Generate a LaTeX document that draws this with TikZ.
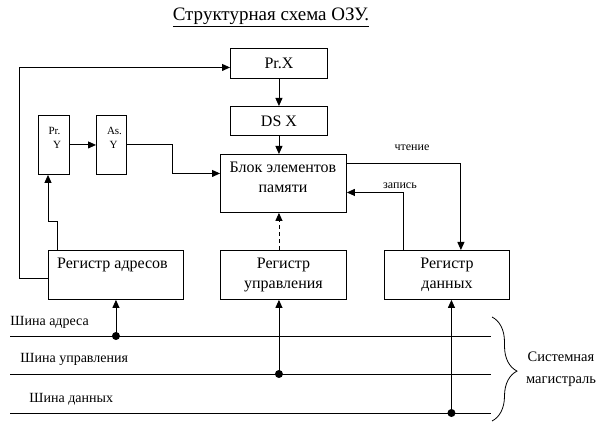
\documentclass[tikz,border=0pt]{standalone}
\usepackage{fontspec}
\setmainfont{Liberation Serif}
\usetikzlibrary{arrows.meta,decorations.pathreplacing,calc}

\begin{document}
\begin{tikzpicture}[
  x=1pt,y=-1pt,
  line width=0.9pt,
  >={Triangle[length=8pt,width=7pt]},
  box/.style={draw,anchor=north west,inner sep=0pt,align=center,font=\fontsize{16}{20}\selectfont},
  boxtext/.style={font=\fontsize{16}{20}\selectfont,align=center,inner sep=0pt},
  smalltext/.style={font=\fontsize{11}{13}\selectfont,inner sep=0pt},
  tag/.style={font=\fontsize{12}{14}\selectfont,inner sep=0pt},
  busname/.style={font=\fontsize{14}{17}\selectfont,anchor=west,inner sep=0pt},
  tap/.style={circle,fill,inner sep=0pt,minimum size=8pt},
  flow/.style={->},
  ctrl/.style={->,dash pattern=on 4pt off 3pt}
]
\useasboundingbox (0,0) rectangle (614,425);

% Title
\node[font=\fontsize{19}{22}\selectfont] (title) at (271,17) {\underline{Структурная схема ОЗУ.}};

% Blocks
\node[box,minimum width=97pt,minimum height=30pt] (prx) at (230,48) {Pr.X};
\node[box,minimum width=97pt,minimum height=29pt] (dsx) at (230,106) {DS X};
\node[box,minimum width=126pt,minimum height=58pt] (blk) at (220,154) {};
\node[boxtext] (blktxt) at (283,177) {Блок элементов\\памяти};
\node[box,minimum width=30.5pt,minimum height=59pt] (pry) at (38,115) {};
\node[smalltext] (prytop) at (54.5,131) {Pr.};
\node[smalltext] (prybot) at (57,144.5) {Y};
\node[box,minimum width=29.5pt,minimum height=59pt] (asy) at (96,115) {};
\node[smalltext] (asytop) at (114.5,131) {As.};
\node[smalltext] (asybot) at (113.5,144.5) {Y};
\node[box,minimum width=135pt,minimum height=49pt] (radr) at (48,250) {};
\node[boxtext] (radrtxt) at (112.5,265) {Регистр адресов};
\node[box,minimum width=126pt,minimum height=49pt] (rupr) at (220,250) {Регистр\\управления};
\node[box,minimum width=125pt,minimum height=49pt] (rdat) at (384,250) {Регистр\\данных};

% Inner connections
\draw[flow] (prx) -- (dsx);
\draw[flow] (dsx) -- (dsx.south |- blk.north);
\draw[ctrl] (dsx.south |- rupr.north) -- (dsx.south |- blk.south);
\draw[flow] ([yshift=-3.5pt]radr.west) -- ++(-28.5,0) |- ([yshift=-4pt]prx.west);
\draw[flow] ([xshift=9.5pt]radr.north west) |- ++(-9.5,-29) -- ([xshift=10pt]pry.south west);
\draw[flow] (pry.east) -- (asy.west);
\draw[flow] (asy.east) -- ++(46.5,0) |- ([yshift=10pt]blk.west);
\draw[flow] ([yshift=20pt]blk.east) -| ([xshift=-49pt]rdat.north east);
\node[tag] (readlbl) at (412,148) {чтение};
\draw[flow] ([xshift=19pt]rdat.north west) |- ([yshift=-9pt]blk.east);
\node[tag] (writelbl) at (400,186) {запись};

% Buses
\coordinate (adrL) at (10,336);  \coordinate (adrR) at (491,336);
\coordinate (ctlL) at (10,374);  \coordinate (ctlR) at (491,374);
\coordinate (datL) at (10,413);  \coordinate (datR) at (491,413);
\draw (adrL) -- (adrR);
\draw (ctlL) -- (ctlR);
\draw (datL) -- (datR);
\node[busname] (adrname) at (10,322) {Шина адреса};
\node[busname] (ctlname) at (20,359) {Шина управления};
\node[busname] (datname) at (29,399) {Шина данных};

\node[tap] (adrtap) at (radr.south |- adrL) {};
\draw[flow] (adrtap.center) -- (radr.south);
\node[tap] (ctltap) at (dsx.south |- ctlL) {};
\draw[flow] (ctltap.center) -- (ctltap |- rupr.south);
\coordinate (datcol) at ([xshift=4.5pt]rdat.south);
\node[tap] (dattap) at (datcol |- datL) {};
\draw[flow] (dattap.center) -- (datcol);

% System bus brace
\coordinate (brtop) at (492,317);
\coordinate (brbot) at (492,421);
\draw[line width=0.8pt,decorate,decoration={brace,amplitude=25pt,aspect=0.52}] (brtop) -- (brbot);
\node[font=\fontsize{14.5}{22}\selectfont,align=center] (sysbus) at (561,369) {Системная\\магистраль};

\end{tikzpicture}
\end{document}
